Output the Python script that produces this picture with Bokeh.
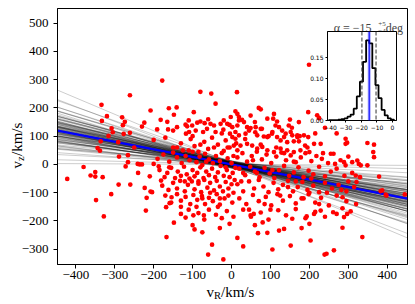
import math
from bokeh.plotting import figure
from bokeh.layouts import column
from bokeh.models import Range1d, FixedTicker, Label, Span, PrintfTickFormatter
from bokeh.core.properties import value
from bokeh.embed import file_html
from bokeh.resources import INLINE

# ---------------- data ----------------
vR_upper_left = [-178, -261, -334, -333, -320, -308, -305, -281, -274, -279, -277, -336, -316, -291, -344, -338, -289, -266, -261,
                 -230, -224, -208, -191, -182, -165, -163, -148, -161, -141, -140, -118, -110, -97, -80, -52, -41, -114]
vz_upper_left = [297, 245, 211, 154, 171, 128, 114, 167, 151, 139, 108, 82, 101, 79, 58, 49, 28, 33, 112,
                 134, 148, 191, 124, 158, 151, 124, 176, 199, 202, 132, 141, 156, 185, 257, 251, 215, 135]

vR_lower_left = [-422, -380, -362, -350, -350, -331, -348, -328, -309, -290, -260, -272, -266, -241, -236, -230, -223, -218, -220, -208,
                 -204, -210, -200, -187, -181, -167, -168, -159, -148, -154, -50, -60, -21]
vz_lower_left = [-51, -9, -39, -27, -43, -45, -126, -184, -105, -71, -71, -7, 8, 2, 0, 0, -83, -118, -163, -96,
                 -98, -42, 2, -7, -57, -257, -151, -137, -206, -116, -284, -319, -336]

vR_center_top = [-88, -80, -101, -92, -69, -63, -54, -45, -28, -20, -11, -2, 2, 15, 19, 15, -117, -109, -73, -41, -21, -4, 10,
                 -200, -170, -150, -130, -125, -105, -95, -85, -70, -60, -50, -35, -25, -15, -5, 5, 12]
vz_center_top = [148, 152, 138, 120, 146, 126, 144, 138, 144, 156, 144, 168, 132, 138, 156, 179, 109, 115, 115, 115, 123, 109, 115,
                 87, 95, 60, 75, 50, 90, 65, 45, 80, 55, 95, 70, 40, 85, 60, 30, 75]

vR_center_mid = [-190, -175, -160, -150, -140, -128, -118, -108, -100, -90, -82, -75, -68, -58, -48, -40, -30, -20, -10, 0,
                 -185, -172, -165, -155, -145, -138, -130, -122, -115, -108, -100, -95, -88, -80, -72, -65, -58, -50, -42, -35,
                 -28, -20, -12, -5, 3, 10]
vz_center_mid = [20, 35, 10, 42, 25, 5, 30, 15, 45, 8, 28, -2, 38, 18, 5, 30, 12, 48, 22, 5,
                 -20, -45, -30, -12, -48, -25, -40, -8, -35, -50, -20, -42, -30, -10, -48, -25, -38, -15, -45, -28,
                 -5, -40, -20, -45, -30, -12]

vR_center_low = [-178, -162, -150, -140, -132, -120, -112, -102, -95, -85, -78, -70, -62, -55, -45, -38, -30, -22, -15, -8, 0, 8,
                 -170, -155, -140, -130, -118, -106, -98, -88, -76, -68, -58, -48, -38, -30, -18, -8, 2,
                 -130, -118, -110, -98, -85, -70, -58, -40, -25, -12, 5, -71,
                 -100, -75, -30, 15, -5, 30]
vz_center_low = [-75, -90, -65, -85, -58, -95, -72, -60, -88, -68, -98, -55, -82, -65, -92, -58, -78, -95, -62, -85, -70, -55,
                 -110, -135, -105, -128, -115, -140, -108, -125, -112, -140, -118, -130, -105, -142, -120, -110, -135,
                 -175, -188, -160, -180, -172, -195, -160, -178, -190, -165, -185, -180,
                 -215, -240, -225, -260, -210, -290]

vR_core_extra = [-140, -120, -100, -90, -80, -75, -65, -55, -45, -35, -25, -15, -5, 5, 15, 25, 35, 45, 55, 65,
                 75, 85, 95, 105, 115, 125, 135, 145, 155, 165, 175, 185, 195, 205, 215, 225, 235, 245, -160, -150,
                 -130, -110, -85, -60, -30, -10, 30, 60, 100, 130, 160, 200, 240, -95, 80, 180, -240, -250, 270, 300]
vz_core_extra = [60, -60, 100, -150, 70, -120, 10, -100, 60, -150, 110, -10, 140, -100, 50, -60, 90, -160, 15, -30,
                 70, -140, 100, -20, 60, -110, 40, -80, 130, -60, 100, -120, 60, -50, 110, -140, 40, -100, -10, 120,
                 -150, 50, -60, 160, -120, 60, -30, 150, -160, 120, 10, -100, 130, -230, -205, -225, -30, 60, 110, -60]

vR_right_top = [199, 14, 70, 75, 27, 10, 107, 109, 113, 150, 173, 147, 197, 220, 225, 189, 229, 197, 200, 349, 366, 364, 293, 297, 255,
                2, 10, 19, 36, 45, 49, 62, 75, 66, 83, 92, 105, 117, 126, 135, 143, 156, 160, 169, 173, 186, 212,
                6, 23, 40, 53, 66, 79, 92, 109, 126, 143, 160, 177,
                92, 49, 32, 19, 117, 139, 152, 169, 122, 104, 40, 61, 78]
vz_right_top = [353, 256, 200, 195, 158, 188, 162, 179, 138, 159, 150, 138, 185, 174, 164, 67, 73, 97, 44, 76, 70, 44, 91, 77, 38,
                97, 91, 103, 109, 120, 129, 132, 126, 103, 99, 97, 115, 97, 85, 97, 79, 103, 82, 103, 82, 103, 73,
                67, 67, 73, 67, 56, 62, 50, 44, 56, 50, 44, 50,
                162, 173, 150, 168, 152, 109, 115, 97, 132, 109, 132, 114, 126]

vR_right_mid = [15, 28, 40, 52, 65, 78, 90, 102, 115, 128, 140, 152, 165, 178, 190, 205, 218, 232, 248, 262, 280, 300,
                20, 35, 48, 60, 72, 85, 98, 110, 122, 135, 148, 160, 172, 185, 198, 210, 225, 240, 255, 270, 290, 310, 330,
                15, 30, 45, 58, 70, 82, 95, 108, 120, 132, 145, 158, 170, 182, 195, 210, 225, 240, 258, 275, 295, 315]
vz_right_mid = [25, 40, 10, 30, 45, 18, 35, 5, 28, 42, 15, 32, 8, 25, 40, 12, 30, 20, 5, 38, 15, 28,
                -15, -38, -8, -25, -45, -12, -32, -48, -20, -5, -40, -28, -10, -45, -22, -35, -8, -42, -25, -15, -40, -30, -45,
                -70, -95, -60, -85, -55, -78, -98, -65, -88, -72, -58, -95, -80, -62, -90, -75, -98, -65, -85, -72, -95, -80]

vR_right_low = [20, 38, 55, 70, 88, 102, 118, 132, 150, 165, 180, 198, 215, 230, 250, 270, 295, 320,
                30, 50, 75, 95, 120, 140, 165, 190, 215, 240, 270, 285, 60, 200]
vz_right_low = [-120, -140, -108, -130, -115, -145, -105, -128, -112, -138, -120, -105, -135, -118, -145, -110, -130, -140,
                -160, -185, -170, -195, -162, -180, -158, -190, -168, -185, -175, -155, -215, -210]

vR_right_edge = [49, 57, 68, 92, 105, 122, 135, 152, 239, 244, 263, 336, 285, 289, 297, 229, 387, 396, 445, 379,
                 266, 293, 327, 349, 321, 319, 282, 285, 383, 398, 261, 203, 156, 193, 212, 306, 293, 289, 310, 323, 332, 366]
vz_right_edge = [-180, -175, -243, -242, -301, -234, -228, -287, -319, -316, -304, -257, -224, -186, -175, -163, -92, -107, -106, -43,
                 2, -3, 2, -3, -62, -39, -90, -116, -94, -110, -169, -269, -192, -184, -175, -166, 73, 8, 8, 14, -3, 26]

# posterior samples of the tilt angle alpha (deg) and the offset (km/s)
alpha_samples = [-30.2, -27.8, -25.9,
                 -24.6, -23.9, -23.3,
                 -22.8, -22.3, -21.9, -21.5, -21.2,
                 -20.9, -20.6, -20.4, -20.1, -19.9, -19.7, -19.5, -19.3, -19.1,
                 -18.9, -18.8, -18.6, -18.4, -18.2, -18.0, -17.9, -17.7, -17.6, -17.4, -17.3, -17.2, -17.1,
                 -16.9, -16.8, -16.7, -16.6, -16.5, -16.3, -16.2, -16.1, -16.0, -15.9, -15.8, -15.6, -15.5, -15.4,
                 -15.3, -15.2, -15.1, -15.0,
                 -14.9, -14.8, -14.7, -14.5, -14.4, -14.3, -14.2, -14.0, -13.9, -13.8, -13.6, -13.5, -13.4, -13.3,
                 -13.2, -13.1, -13.0,
                 -12.8, -12.6, -12.4, -12.3, -12.1, -11.9, -11.8, -11.6, -11.5, -11.3, -11.2, -11.1,
                 -10.8, -10.5, -10.2, -9.9, -9.7, -9.5, -9.3, -9.1,
                 -8.7, -8.2, -7.8, -7.5, -7.2,
                 -6.4, -5.6, -4.1, -2.0, -0.4]
offset_samples = [3, -6, 9, -2, 5, -11, 1, 7, -4, 12, -8, 0, 4, -13, 6, -1, 10, -5, 2, -9,
                  8, -3, 11, -7, 1, -12, 5, -2, 9, -6, 3, -10, 7, 0, -4, 13, -8, 2, -1, 6,
                  -11, 4, -5, 10, -3, 8, -9, 1, 5, -7, 12, -2, 3, -6, 9, -13, 0, 7, -4, 2,
                  -10, 6, -1, 11, -5, 4, -8, 1, 8, -3, 10, -12, 5, -2, 7, -9, 3, 0, -6, 12,
                  -4, 6, -1, 9, -11, 2, -7, 4, 11, -3, 8, -5, 0, 6, -2, 3, 1, 0]
alpha_median = -15.0
alpha_low = -19.7
alpha_high = -10.6

hist_edges = [-41, -39, -37, -35, -33, -31, -29, -27, -25, -23, -21, -19, -17, -15, -13, -11, -9, -7, -5, -3, -1, 1]
hist_heights = [0.001, 0.001, 0.001, 0.002, 0.003, 0.005, 0.009, 0.014, 0.028, 0.057, 0.092, 0.139, 0.190,
                0.183, 0.124, 0.084, 0.053, 0.025, 0.012, 0.005, 0.002]

main_xticks = [-400, -300, -200, -100, 0, 100, 200, 300, 400]
main_yticks = [-300, -200, -100, 0, 100, 200, 300, 400, 500]
inset_xticks = [-40, -30, -20, -10, 0]
inset_yticks = [0.0, 0.05, 0.10, 0.15]

vR = (vR_upper_left + vR_lower_left + vR_center_top + vR_center_mid + vR_center_low + vR_core_extra
      + vR_right_top + vR_right_mid + vR_right_low + vR_right_edge)
vz = (vz_upper_left + vz_lower_left + vz_center_top + vz_center_mid + vz_center_low + vz_core_extra
      + vz_right_top + vz_right_mid + vz_right_low + vz_right_edge)

# ---------------- main figure ----------------
W, H = 408, 300
XMIN, XMAX = -447, 452
YMIN, YMAX = -354, 552
SERIF = "Liberation Serif"

p = figure(width=W, height=H, x_range=Range1d(XMIN, XMAX), y_range=Range1d(YMIN, YMAX),
           output_backend="svg", toolbar_location=None, frame_align=False,
           min_border_left=57, min_border_right=1, min_border_top=8, min_border_bottom=36)
p.grid.visible = False
p.outline_line_color = "black"
p.outline_line_alpha = 1.0
p.background_fill_color = "white"

def minus(v):
    return str(v).replace("-", "\u2212")

p.xaxis.ticker = FixedTicker(ticks=main_xticks)
p.yaxis.ticker = FixedTicker(ticks=main_yticks)
p.xaxis.major_label_overrides = {t: minus(t) for t in main_xticks}
p.yaxis.major_label_overrides = {t: minus(t) for t in main_yticks}
for ax in (p.xaxis, p.yaxis):
    ax.major_label_text_font = SERIF
    ax.major_label_text_font_size = "13px"
    ax.major_label_text_color = "black"
    ax.major_tick_out = 4
    ax.major_tick_in = 0
    ax.minor_tick_line_color = None
    ax.axis_line_color = "black"
    ax.major_tick_line_color = "black"
p.xaxis.major_label_standoff = 2
p.yaxis.major_label_standoff = 5

# fan of sampled relations
xs0, ys0, xs1, ys1 = [], [], [], []
for a, b in zip(alpha_samples, offset_samples):
    t = math.tan(math.radians(a))
    xs0.append(XMIN); ys0.append(t * XMIN + b)
    xs1.append(XMAX); ys1.append(t * XMAX + b)
p.segment(x0=xs0, y0=ys0, x1=xs1, y1=ys1, line_color="black", line_alpha=0.2, line_width=1)

tm = math.tan(math.radians(alpha_median))
p.segment(x0=[XMIN], y0=[tm * XMIN], x1=[XMAX], y1=[tm * XMAX], line_color="#0000ff", line_width=2.2)

p.scatter(vR, vz, size=4.7, fill_color="#ff0000", line_color=None)

# inset title (inside the main frame)
p.add_layout(Label(x=375, y=482, text="\u03b1  =  \u221215", text_font=SERIF, text_font_size="12px",
                   text_align="right", text_baseline="alphabetic"))
p.add_layout(Label(x=377, y=497, text="+5", text_font=SERIF, text_font_size="7px",
                   text_align="left", text_baseline="alphabetic"))
p.add_layout(Label(x=377, y=471, text="\u22124", text_font=SERIF, text_font_size="7px",
                   text_align="left", text_baseline="alphabetic"))
p.add_layout(Label(x=396, y=482, text="deg", text_font=SERIF, text_font_size="12px",
                   text_align="left", text_baseline="alphabetic"))

# ---------------- inset histogram ----------------
ins = figure(width=95, height=105, x_range=Range1d(-41.9, 2.6), y_range=Range1d(0, 0.211),
             output_backend="svg", toolbar_location=None, frame_align=False,
             min_border_left=24, min_border_right=2, min_border_top=2, min_border_bottom=14,
             border_fill_color=None, background_fill_color="white",
             margin=(-271, 0, 166, 303))
ins.grid.visible = False
ins.outline_line_color = "black"
ins.outline_line_alpha = 1.0
ins.xaxis.ticker = FixedTicker(ticks=inset_xticks)
ins.yaxis.ticker = FixedTicker(ticks=inset_yticks)
ins.xaxis.major_label_overrides = {t: minus(t) for t in inset_xticks}
ins.yaxis.formatter = PrintfTickFormatter(format="%.2f")
for ax in (ins.xaxis, ins.yaxis):
    ax.major_label_text_font = "DejaVu Sans"
    ax.major_label_text_font_size = "6px"
    ax.major_label_text_color = "black"
    ax.major_tick_out = 2
    ax.major_tick_in = 0
    ax.minor_tick_line_color = None
    ax.major_label_standoff = 2
    ax.axis_line_color = "black"

hx = [hist_edges[0]]
hy = [0.0]
for i, h in enumerate(hist_heights):
    hx += [hist_edges[i], hist_edges[i + 1]]
    hy += [h, h]
hx.append(hist_edges[-1])
hy.append(0.0)

ins.add_layout(Span(location=alpha_median, dimension="height", line_color="#0000ff", line_alpha=0.35, line_width=3))
ins.add_layout(Span(location=alpha_median, dimension="height", line_color="#0000ff", line_width=1))
ins.add_layout(Span(location=alpha_low, dimension="height", line_color="#333333", line_dash="4 2", line_width=1))
ins.add_layout(Span(location=alpha_high, dimension="height", line_color="#333333", line_dash="4 2", line_width=1))
ins.line(hx, hy, line_color="black", line_width=1.8)

# ---------------- transparent overlay for the axis titles (with subscripts) ----------------
ov = figure(width=W, height=H, x_range=Range1d(0, W), y_range=Range1d(0, H),
            output_backend="svg", toolbar_location=None, frame_align=False,
            x_axis_location=None, y_axis_location=None,
            min_border_left=0, min_border_right=0, min_border_top=0, min_border_bottom=0,
            border_fill_color=None, background_fill_color=None, outline_line_color=None,
            margin=(-H, 0, 0, 0))
ov.grid.visible = False

# x title: v_R/km/s
ov.text(x=[206, 220.5], y=[H - 291, H - 291], text=["v", "/km/s"], text_font=value(SERIF),
        text_font_size=value("15px"), text_align="left", text_baseline="alphabetic", text_color="black")
ov.text(x=[213.5], y=[H - 294.5], text=["R"], text_font=value(SERIF),
        text_font_size=value("10.5px"), text_align="left", text_baseline="alphabetic", text_color="black")
# y title: v_z/km/s (rotated)
ov.text(x=[16, 16], y=[H - 168, H - 155.5], text=["v", "/km/s"], angle=math.pi / 2, text_font=value(SERIF),
        text_font_size=value("15px"), text_align="left", text_baseline="alphabetic", text_color="black")
ov.text(x=[19.5], y=[H - 160.5], text=["z"], angle=math.pi / 2, text_font=value(SERIF),
        text_font_size=value("10.5px"), text_align="left", text_baseline="alphabetic", text_color="black")

layout = column(p, ins, ov, spacing=0)
open("out.html", "w").write(file_html(layout, INLINE))
